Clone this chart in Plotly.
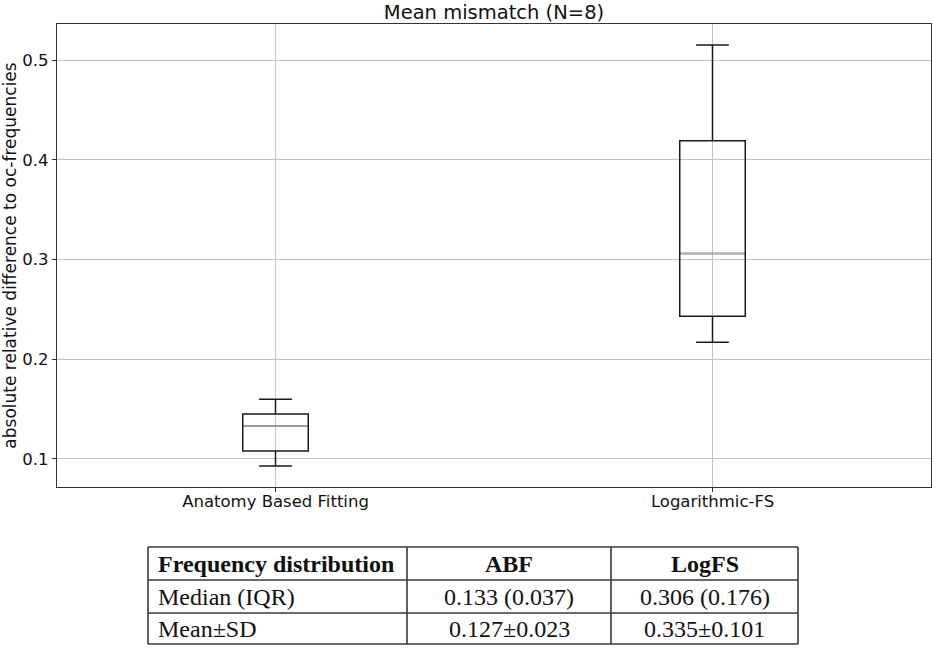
import plotly.graph_objects as go

# box statistics
groups = ["Anatomy Based Fitting", "Logarithmic-FS"]
positions = [1, 2]
lower_whisker = [0.093, 0.217]
q1 = [0.108, 0.243]
median = [0.133, 0.306]
q3 = [0.145, 0.419]
upper_whisker = [0.160, 0.515]

# summary table
table_header = ["<b>Frequency distribution</b>", "<b>ABF</b>", "<b>LogFS</b>"]
row_labels = ["Median (IQR)", "Mean±SD"]
abf_values = ["0.133 (0.037)", "0.127±0.023"]
logfs_values = ["0.306 (0.176)", "0.335±0.101"]

W, H = 935, 651
box_w = 0.15

fig = go.Figure()

fig.add_trace(go.Box(
    x=positions, q1=q1, median=median, q3=q3,
    lowerfence=lower_whisker, upperfence=upper_whisker,
    width=box_w, whiskerwidth=0.5, boxpoints=False,
    fillcolor="rgba(0,0,0,0)", line=dict(color="#1a1a1a", width=1.5),
    showlegend=False, hoverinfo="skip",
))

# matplotlib-style pale median lines drawn over the box
mx, my = [], []
for p, m in zip(positions, median):
    mx += [p - box_w / 2 + 0.002, p + box_w / 2 - 0.002, None]
    my += [m, m, None]
fig.add_trace(go.Scatter(x=mx, y=my, mode="lines", line=dict(color="#b4b4b4", width=1.6),
                         showlegend=False, hoverinfo="skip"))

# table drawn with paper-space lines and text (go.Table rows can't be this tight)
col_edges = [148, 407, 611, 798]
row_edges = [547, 580, 613, 644]
rows = [table_header] + [list(r) for r in zip(row_labels, abf_values, logfs_values)]

px_x = lambda v: v / W
px_y = lambda v: 1 - v / H
line_style = dict(color="#3a3a3a", width=1.6)
for ry in row_edges:
    fig.add_shape(type="line", xref="paper", yref="paper", x0=px_x(col_edges[0]), x1=px_x(col_edges[-1]),
                  y0=px_y(ry), y1=px_y(ry), line=line_style)
for cx in col_edges:
    fig.add_shape(type="line", xref="paper", yref="paper", x0=px_x(cx), x1=px_x(cx),
                  y0=px_y(row_edges[0]), y1=px_y(row_edges[-1]), line=line_style)
for i, row in enumerate(rows):
    yc = (row_edges[i] + row_edges[i + 1]) / 2
    for j, txt in enumerate(row):
        if j == 0:
            x, anchor = col_edges[0] + 8, "left"
        else:
            x, anchor = (col_edges[j] + col_edges[j + 1]) / 2, "center"
        fig.add_annotation(text=txt, xref="paper", yref="paper", x=px_x(x), y=px_y(yc),
                           xanchor=anchor, yanchor="middle", showarrow=False,
                           font=dict(family="Liberation Serif", size=24, color="#111"))

fig.update_layout(
    width=W, height=H,
    margin=dict(l=0, r=0, t=0, b=0),
    paper_bgcolor="white", plot_bgcolor="white",
    font=dict(family="DejaVu Sans", color="#111"),
    title=dict(text="Mean mismatch (N=8)", x=494 / W, xanchor="center",
               y=1 - 12 / H, yanchor="middle", font=dict(family="DejaVu Sans", size=19.5, color="#111")),
    xaxis=dict(domain=[57 / W, 931 / W], range=[0.5, 2.5], tickvals=positions, ticktext=groups,
               showgrid=True, gridcolor="#c4c4c4", gridwidth=1, zeroline=False,
               showline=True, linecolor="#333", linewidth=1.2, mirror=True,
               ticks="outside", ticklen=4, tickcolor="#333", ticklabelstandoff=-5,
               tickfont=dict(family="DejaVu Sans", size=16.5, color="#111")),
    yaxis=dict(domain=[(H - 487) / H, (H - 24) / H], range=[0.0719, 0.5361],
               tickvals=[0.1, 0.2, 0.3, 0.4, 0.5], ticktext=["0.1", "0.2", "0.3", "0.4", "0.5"],
               showgrid=True, gridcolor="#c4c4c4", gridwidth=1, zeroline=False,
               showline=True, linecolor="#333", linewidth=1.2, mirror=True,
               ticks="outside", ticklen=4, tickcolor="#333",
               tickfont=dict(family="DejaVu Sans", size=16.5, color="#111"),
               title=dict(text="absolute relative difference to oc-frequencies", standoff=4,
                          font=dict(family="DejaVu Sans", size=17, color="#111")),
               automargin=False),
)

fig.write_html("out.html", config={"displayModeBar": False},
               post_script="document.body.style.margin='0';document.body.style.overflow='hidden';")
